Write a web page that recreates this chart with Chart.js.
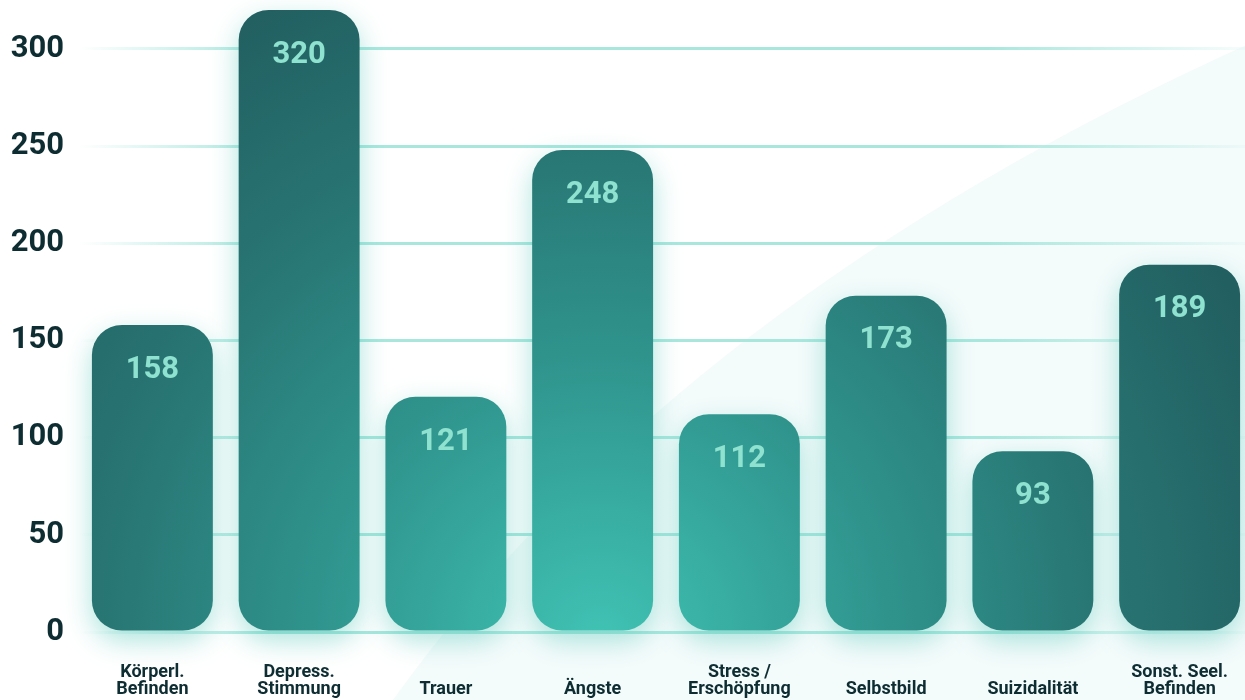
<!DOCTYPE html>
<html>
<head>
<meta charset="utf-8">
<script src="https://cdn.jsdelivr.net/npm/chart.js@4/dist/chart.umd.min.js"></script>
<style>
  html, body { margin: 0; padding: 0; background: #ffffff; overflow: hidden; }
  #wrap { width: 1253px; height: 700px; position: relative; }
</style>
</head>
<body>
<div id="wrap"><canvas id="themenChart"></canvas></div>
<script>
// DATEN
const categories = [
  ['Körperl.', 'Befinden'],
  ['Depress.', 'Stimmung'],
  ['', 'Trauer'],
  ['', 'Ängste'],
  ['Stress /', 'Erschöpfung'],
  ['', 'Selbstbild'],
  ['', 'Suizidalität'],
  ['Sonst. Seel.', 'Befinden']
];
const values = [158, 320, 121, 248, 112, 173, 93, 189];
const yTicks = [0, 50, 100, 150, 200, 250, 300];

const textDark = '#0e2d32';
const gridTeal = '169,231,221';

// hintergrund mit heller kurve
const backgroundPlugin = {
  id: 'bgCurve',
  beforeDraw(chart) {
    const ctx = chart.ctx;
    ctx.save();
    ctx.fillStyle = '#ffffff';
    ctx.fillRect(0, 0, chart.width, chart.height);
    ctx.beginPath();
    ctx.moveTo(393, 700);
    ctx.quadraticCurveTo(680, 300, 1253, 42);
    ctx.lineTo(1253, 700);
    ctx.closePath();
    ctx.fillStyle = '#f4fbfb';
    ctx.fill();
    ctx.restore();
  }
};

// glow unter den balken
const glowPlugin = {
  id: 'glow',
  beforeDatasetsDraw(chart) {
    const ctx = chart.ctx;
    ctx.save();
    ctx.shadowColor = 'rgba(70,195,180,0.45)';
    ctx.shadowBlur = 28;
    ctx.shadowOffsetY = 10;
  },
  afterDatasetsDraw(chart) {
    chart.ctx.restore();
  }
};

// werte in den balken
const valueLabels = {
  id: 'valueLabels',
  afterDatasetsDraw(chart) {
    const ctx = chart.ctx;
    const meta = chart.getDatasetMeta(0);
    ctx.save();
    ctx.font = 'bold 31px Roboto';
    ctx.fillStyle = '#8fe2cf';
    ctx.textAlign = 'center';
    ctx.textBaseline = 'middle';
    meta.data.forEach((bar, i) => {
      ctx.fillText(String(values[i]), bar.x, bar.y + 45);
    });
    ctx.restore();
  }
};

function barGradient(context) {
  const ctx = context.chart.ctx;
  const g = ctx.createRadialGradient(600, 640, 0, 600, 640, 720);
  g.addColorStop(0, '#40c3b4');
  g.addColorStop(0.4, '#2f938c');
  g.addColorStop(0.7, '#287573');
  g.addColorStop(1, '#225f61');
  return g;
}

function gridGradient(context) {
  const chart = context.chart;
  const area = chart.chartArea;
  if (!area) return 'rgba(' + gridTeal + ',1)';
  const g = chart.ctx.createLinearGradient(area.left, 0, 1245, 0);
  g.addColorStop(0, 'rgba(' + gridTeal + ',0)');
  g.addColorStop(0.16, 'rgba(' + gridTeal + ',1)');
  g.addColorStop(0.78, 'rgba(' + gridTeal + ',1)');
  g.addColorStop(1, 'rgba(' + gridTeal + ',0.1)');
  return g;
}

new Chart(document.getElementById('themenChart'), {
  type: 'bar',
  data: {
    labels: categories,
    datasets: [{
      data: values,
      backgroundColor: barGradient,
      borderWidth: 0,
      borderRadius: 30,
      borderSkipped: false,
      categoryPercentage: 1,
      barPercentage: 0.824,
      clip: false
    }]
  },
  options: {
    responsive: true,
    maintainAspectRatio: false,
    animation: false,
    layout: { padding: { top: 10, left: 0, right: 0, bottom: 0 } },
    plugins: {
      legend: { display: false },
      tooltip: { enabled: false }
    },
    scales: {
      x: {
        grid: { display: false, drawTicks: false },
        border: { display: false },
        afterFit(scale) {
          scale.height = 68;
          scale.paddingLeft = 0;
          scale.paddingRight = 0;
        },
        ticks: {
          padding: 32,
          color: textDark,
          font: { family: 'Roboto', size: 18, weight: 'bold', lineHeight: 0.95 },
          maxRotation: 0,
          autoSkip: false
        }
      },
      y: {
        min: 0,
        max: 320,
        afterBuildTicks(scale) {
          scale.ticks = yTicks.map(v => ({ value: v }));
        },
        afterFit(scale) {
          scale.width = 79;
          scale.paddingTop = 0;
          scale.paddingBottom = 0;
        },
        grid: { color: gridGradient, lineWidth: 3, drawTicks: false },
        border: { display: false },
        ticks: {
          padding: 15,
          color: textDark,
          font: { family: 'Roboto', size: 31, weight: 'bold' }
        }
      }
    }
  },
  plugins: [backgroundPlugin, glowPlugin, valueLabels]
});
</script>
</body>
</html>
